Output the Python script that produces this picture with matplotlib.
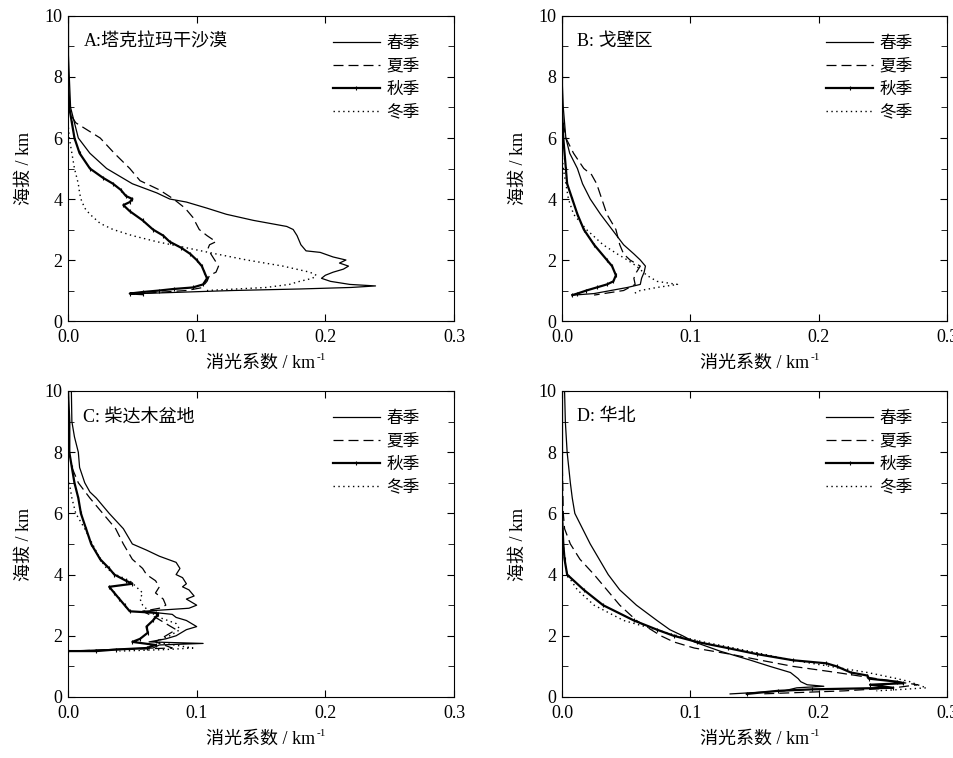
import matplotlib
matplotlib.use("Agg")
import matplotlib.pyplot as plt
from matplotlib.ticker import MultipleLocator

plt.rcParams['font.family'] = ['Liberation Serif', 'Noto Sans CJK SC']

seasons = ['春季', '夏季', '秋季', '冬季']
titles = ['A:塔克拉玛干沙漠', 'B: 戈壁区', 'C: 柴达木盆地', 'D: 华北']

# A: Taklimakan
a_spring_alt = [10, 9, 8, 7, 6.5, 6.0, 5.5, 5.0, 4.5, 4.2, 4.0, 3.9, 3.7, 3.5, 3.3, 3.1, 3.0, 2.8, 2.5, 2.3,
                2.25, 2.1, 2.0, 1.9, 1.8, 1.7, 1.6, 1.5, 1.4, 1.3, 1.2, 1.15, 1.1, 1.05, 1.0, 0.95, 0.9]
a_spring_ext = [0.0, 0.0, 0.001, 0.002, 0.005, 0.008, 0.017, 0.030, 0.050, 0.069, 0.079, 0.092, 0.108, 0.123,
                0.144, 0.170, 0.175, 0.178, 0.181, 0.185, 0.196, 0.206, 0.216, 0.211, 0.218, 0.214, 0.206, 0.200,
                0.197, 0.204, 0.219, 0.239, 0.220, 0.180, 0.128, 0.092, 0.056]
a_summer_alt = [6.7, 6.5, 6.0, 5.5, 5.0, 4.6, 4.3, 4.0, 3.7, 3.4, 3.0, 2.8, 2.6, 2.5, 2.4, 2.2, 2.0, 1.8, 1.6,
                1.5, 1.3, 1.2, 1.1, 1.0, 0.9]
a_summer_ext = [0.003, 0.006, 0.025, 0.036, 0.048, 0.056, 0.071, 0.082, 0.091, 0.097, 0.102, 0.108, 0.115, 0.110,
                0.109, 0.111, 0.114, 0.117, 0.115, 0.110, 0.108, 0.106, 0.105, 0.092, 0.056]
a_autumn_alt = [10, 9, 8, 7, 6.5, 6.0, 5.5, 5.0, 4.7, 4.5, 4.3, 4.1, 4.0, 3.9, 3.8, 3.6, 3.3, 3.0, 2.8, 2.6,
                2.4, 2.2, 2.0, 1.8, 1.6, 1.4, 1.2, 1.1, 1.05, 1.0, 0.95, 0.9, 0.88]
a_autumn_ext = [0.0, 0.0, 0.0, 0.001, 0.003, 0.005, 0.009, 0.017, 0.027, 0.035, 0.041, 0.045, 0.050, 0.048,
                0.043, 0.048, 0.058, 0.066, 0.074, 0.079, 0.088, 0.095, 0.100, 0.104, 0.106, 0.108, 0.105,
                0.097, 0.082, 0.071, 0.058, 0.048, 0.058]
a_winter_alt = [6.5, 6.0, 5.5, 5.0, 4.5, 4.2, 4.0, 3.7, 3.5, 3.2, 3.0, 2.8, 2.6, 2.4, 2.2, 2.0, 1.8, 1.6, 1.5,
                1.4, 1.3, 1.2, 1.1, 1.0]
a_winter_ext = [0.0, 0.001, 0.003, 0.005, 0.008, 0.009, 0.010, 0.013, 0.017, 0.025, 0.035, 0.050, 0.069, 0.092,
                0.115, 0.139, 0.167, 0.188, 0.193, 0.190, 0.180, 0.172, 0.154, 0.108]

# B: Gobi
b_spring_alt = [10, 8, 7, 6.0, 5.5, 5.0, 4.5, 4.0, 3.5, 3.0, 2.5, 2.2, 2.0, 1.8, 1.6, 1.4, 1.2, 1.1, 1.0, 0.9, 0.85]
b_spring_ext = [0.0, 0.0, 0.001, 0.003, 0.006, 0.012, 0.016, 0.022, 0.030, 0.039, 0.048, 0.056, 0.061, 0.065,
                0.064, 0.062, 0.061, 0.051, 0.038, 0.025, 0.009]
b_summer_alt = [6.5, 6.0, 5.5, 5.0, 4.8, 4.5, 4.0, 3.5, 3.0, 2.5, 2.2, 2.0, 1.8, 1.6, 1.4, 1.2, 1.0, 0.85]
b_summer_ext = [0.001, 0.003, 0.009, 0.017, 0.023, 0.027, 0.031, 0.035, 0.042, 0.045, 0.048, 0.053, 0.061, 0.058,
                0.056, 0.057, 0.048, 0.025]
b_autumn_alt = [10, 8, 7, 6.0, 5.0, 4.5, 4.0, 3.5, 3.0, 2.5, 2.0, 1.8, 1.5, 1.3, 1.2, 1.1, 1.0, 0.9, 0.85]
b_autumn_ext = [0.0, 0.0, 0.0, 0.001, 0.003, 0.004, 0.008, 0.012, 0.017, 0.025, 0.035, 0.039, 0.042, 0.040,
                0.035, 0.027, 0.019, 0.012, 0.008]
b_winter_alt = [5.5, 5.0, 4.5, 4.0, 3.5, 3.0, 2.5, 2.2, 2.0, 1.8, 1.5, 1.3, 1.2, 1.1, 1.0, 0.9]
b_winter_ext = [0.0, 0.001, 0.003, 0.005, 0.009, 0.019, 0.032, 0.043, 0.051, 0.058, 0.066, 0.074, 0.090, 0.074,
                0.061, 0.056]

# C: Qaidam
c_spring_alt = [10, 9, 8.5, 8, 7.5, 7, 6.7, 6.5, 6.0, 5.5, 5.0, 4.8, 4.6, 4.4, 4.2, 4.0, 3.9, 3.7, 3.6, 3.5,
                3.3, 3.2, 3.1, 3.0, 2.9, 2.85, 2.8, 2.7, 2.6, 2.5, 2.3, 2.2, 2.0, 1.9, 1.8, 1.75, 1.7, 1.6, 1.5]
c_spring_ext = [0.0026, 0.003, 0.005, 0.008, 0.009, 0.013, 0.017, 0.022, 0.032, 0.043, 0.050, 0.061, 0.071,
                0.084, 0.087, 0.084, 0.089, 0.092, 0.089, 0.094, 0.098, 0.092, 0.096, 0.100, 0.094, 0.076, 0.058,
                0.081, 0.084, 0.092, 0.100, 0.092, 0.084, 0.076, 0.063, 0.105, 0.071, 0.066, 0.0]
c_summer_alt = [7.5, 7, 6.5, 6.0, 5.5, 5.0, 4.5, 4.2, 4.0, 3.8, 3.6, 3.4, 3.2, 3.0, 2.9, 2.8, 2.6, 2.4, 2.2,
                2.0, 1.8, 1.6, 1.5]
c_summer_ext = [0.003, 0.008, 0.017, 0.027, 0.037, 0.043, 0.050, 0.058, 0.061, 0.068, 0.071, 0.068, 0.074,
                0.076, 0.071, 0.058, 0.068, 0.076, 0.084, 0.076, 0.068, 0.081, 0.0]
c_autumn_alt = [10, 9, 8, 7.5, 7, 6.5, 6.0, 5.5, 5.0, 4.5, 4.2, 4.0, 3.8, 3.7, 3.6, 3.4, 3.2, 3.0, 2.8, 2.75,
                2.7, 2.5, 2.3, 2.1, 1.9, 1.8, 1.7, 1.6, 1.55, 1.5, 1.5]
c_autumn_ext = [0.0, 0.001, 0.001, 0.003, 0.005, 0.008, 0.010, 0.014, 0.018, 0.025, 0.032, 0.036, 0.045,
                0.050, 0.032, 0.036, 0.040, 0.044, 0.048, 0.068, 0.070, 0.066, 0.061, 0.062, 0.056, 0.050,
                0.068, 0.061, 0.037, 0.022, 0.0]
c_winter_alt = [7, 6.5, 6.0, 5.5, 5.0, 4.5, 4.2, 4.0, 3.8, 3.6, 3.4, 3.2, 3.0, 2.8, 2.6, 2.4, 2.2, 2.0, 1.8,
                1.6, 1.55, 1.5]
c_winter_ext = [0.001, 0.003, 0.006, 0.013, 0.019, 0.025, 0.030, 0.037, 0.048, 0.053, 0.058, 0.056, 0.058,
                0.063, 0.071, 0.084, 0.087, 0.079, 0.068, 0.097, 0.076, 0.040]

# D: North China
d_spring_alt = [10, 9, 8, 7, 6.5, 6.0, 5.5, 5.0, 4.5, 4.0, 3.5, 3.0, 2.5, 2.2, 2.0, 1.8, 1.5, 1.2, 1.0, 0.8,
                0.6, 0.5, 0.4, 0.35, 0.3, 0.2, 0.1]
d_spring_ext = [0.002, 0.0026, 0.004, 0.0065, 0.008, 0.010, 0.016, 0.022, 0.029, 0.036, 0.045, 0.058, 0.074,
                0.084, 0.094, 0.103, 0.123, 0.147, 0.162, 0.178, 0.184, 0.186, 0.191, 0.204, 0.183, 0.173, 0.131]
d_summer_alt = [10, 8, 6.0, 5.5, 5.0, 4.5, 4.0, 3.5, 3.0, 2.5, 2.0, 1.8, 1.6, 1.4, 1.2, 1.0, 0.8, 0.6, 0.5,
                0.4, 0.3, 0.2, 0.1]
d_summer_ext = [0.0, 0.0, 0.001, 0.002, 0.0065, 0.014, 0.025, 0.035, 0.045, 0.058, 0.077, 0.087, 0.103, 0.131,
                0.155, 0.180, 0.214, 0.245, 0.261, 0.277, 0.259, 0.220, 0.155]
d_autumn_alt = [10, 8, 6.0, 5.0, 4.5, 4.0, 3.5, 3.0, 2.5, 2.2, 2.0, 1.8, 1.6, 1.4, 1.2, 1.1, 1.0, 0.8, 0.7,
                0.6, 0.5, 0.45, 0.4, 0.3, 0.25, 0.2, 0.1]
d_autumn_ext = [0.0, 0.0, 0.0, 0.001, 0.002, 0.004, 0.017, 0.032, 0.056, 0.074, 0.087, 0.105, 0.129, 0.152,
                0.180, 0.206, 0.214, 0.225, 0.238, 0.239, 0.261, 0.266, 0.240, 0.258, 0.195, 0.168, 0.144]
d_winter_alt = [6.0, 5.0, 4.5, 4.0, 3.5, 3.0, 2.5, 2.0, 1.8, 1.6, 1.4, 1.2, 1.0, 0.8, 0.6, 0.5, 0.4, 0.3,
                0.25, 0.2]
d_winter_ext = [0.0, 0.001, 0.002, 0.004, 0.012, 0.025, 0.048, 0.090, 0.110, 0.134, 0.157, 0.180, 0.209,
                0.238, 0.261, 0.271, 0.277, 0.284, 0.266, 0.245]

panels = [
    [(a_spring_ext, a_spring_alt), (a_summer_ext, a_summer_alt), (a_autumn_ext, a_autumn_alt), (a_winter_ext, a_winter_alt)],
    [(b_spring_ext, b_spring_alt), (b_summer_ext, b_summer_alt), (b_autumn_ext, b_autumn_alt), (b_winter_ext, b_winter_alt)],
    [(c_spring_ext, c_spring_alt), (c_summer_ext, c_summer_alt), (c_autumn_ext, c_autumn_alt), (c_winter_ext, c_winter_alt)],
    [(d_spring_ext, d_spring_alt), (d_summer_ext, d_summer_alt), (d_autumn_ext, d_autumn_alt), (d_winter_ext, d_winter_alt)],
]

styles = [
    dict(color='black', lw=0.9, ls='-'),
    dict(color='black', lw=0.9, ls=(0, (8, 4))),
    dict(color='black', lw=1.6, ls='-', marker='|', ms=3, mew=0.8),
    dict(color='black', lw=1.0, ls=(0, (1, 2.5))),
]

positions = [
    [0.0713, 0.5765, 0.4046, 0.4024],
    [0.5891, 0.5765, 0.4036, 0.4024],
    [0.0713, 0.0805, 0.4046, 0.4037],
    [0.5891, 0.0805, 0.4036, 0.4037],
]

fig = plt.figure(figsize=(9.54, 7.58), dpi=100)

for pos, title, curves in zip(positions, titles, panels):
    ax = fig.add_axes(pos)
    for (ext, alt), name, st in zip(curves, seasons, styles):
        ax.plot(ext, alt, label=name, **st)
    ax.set_xlim(0, 0.3)
    ax.set_ylim(0, 10)
    ax.set_xticks([0, 0.1, 0.2, 0.3])
    ax.set_xticklabels(['0.0', '0.1', '0.2', '0.3'])
    ax.set_yticks([0, 2, 4, 6, 8, 10])
    ax.yaxis.set_minor_locator(MultipleLocator(1))
    ax.tick_params(which='both', direction='in', top=True, right=True, labelsize=13)
    ax.tick_params(axis='x', pad=6)
    ax.tick_params(axis='y', pad=4)
    ax.tick_params(which='major', length=5)
    ax.tick_params(which='minor', length=4)
    ax.set_xlabel('消光系数 / km', fontsize=13, labelpad=6)
    ax.annotate('-1', xy=(1, 1), xycoords=ax.xaxis.label, xytext=(1, 1),
                textcoords='offset points', fontsize=8, ha='left', va='top')
    ax.set_ylabel('海拔 / km', fontsize=13, labelpad=8)
    ax.text(0.04, 0.915, title, transform=ax.transAxes, fontsize=13, va='center', ha='left')
    ax.legend(loc='upper right', bbox_to_anchor=(0.95, 0.985), frameon=False, fontsize=12,
              handlelength=2.8, handletextpad=0.4, labelspacing=0.42)

fig.savefig('out.png', dpi=100)
